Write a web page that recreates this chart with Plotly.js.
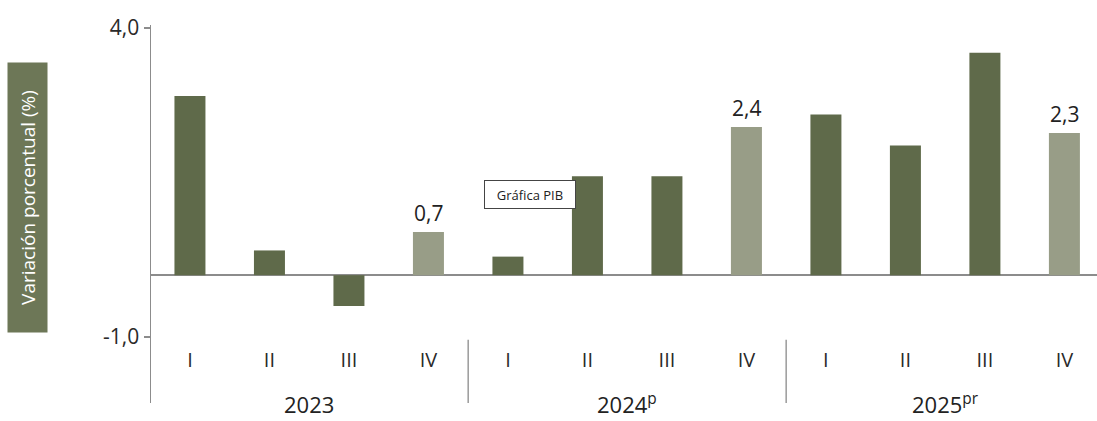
<!DOCTYPE html>
<html>
<head>
<meta charset="utf-8">
<script src="https://cdn.plot.ly/plotly-3.0.1.min.js"></script>
<style>
  html, body { margin: 0; padding: 0; background: #ffffff; }
  #chart { width: 1097px; height: 421px; }
</style>
</head>
<body>
<div id="chart"></div>
<script>
// ---- Data ----
const years = ["2023", "2024<sup>p</sup>", "2025<sup>pr</sup>"];
const quarters = ["I", "II", "III", "IV"];
const values = [2.9, 0.4, -0.5, 0.7, 0.3, 1.6, 1.6, 2.4, 2.6, 2.1, 3.6, 2.3];
const valueLabels = ["", "", "", "0,7", "", "", "", "2,4", "", "", "", "2,3"];
const yTickVals = [4, -1];
const yTickText = ["4,0", "-1,0"];
const yTitle = "Variación porcentual (%)";
const noteText = "Gráfica PIB";

// ---- Derived ----
const xs = values.map((v, i) => i);
const quarterTicks = values.map((v, i) => quarters[i % 4]);
const darkColor = "#5f6a4a";
const lightColor = "#989d87";
const barColors = values.map((v, i) => (i % 4 === 3 ? lightColor : darkColor));
const FONT = "Open Sans, DejaVu Sans, sans-serif";

const trace = {
  type: "bar",
  x: xs,
  y: values,
  width: 0.39,
  marker: { color: barColors, line: { width: 0 } },
  hoverinfo: "skip"
};

const annotations = [];
// value labels
values.forEach((v, i) => {
  if (valueLabels[i]) {
    annotations.push({
      x: i, y: v, xref: "x", yref: "y",
      text: valueLabels[i], showarrow: false,
      yanchor: "bottom", yshift: 3,
      font: { family: FONT, size: 21, color: "#222222" }
    });
  }
});
// year labels
years.forEach((yr, g) => {
  annotations.push({
    x: g * 4 + 1.5, y: -0.044, xref: "x", yref: "paper",
    text: yr, showarrow: false, yanchor: "bottom",
    borderpad: 0,
    font: { family: FONT, size: 22, color: "#222222" }
  });
});
// y title box
annotations.push({
  xref: "paper", yref: "paper",
  x: (27.5 - 151) / 946, y: (403 - 197.5) / 378,
  xanchor: "center", yanchor: "middle",
  text: yTitle, showarrow: false, textangle: -90,
  width: 267, height: 37, borderpad: 1,
  bgcolor: "#6d7757",
  font: { family: FONT, size: 19, color: "#ffffff" }
});
// note box
annotations.push({
  xref: "x", yref: "y", x: 4.28, y: 1.31,
  text: noteText, showarrow: false,
  width: 88, height: 25, borderpad: 1,
  bgcolor: "#ffffff", bordercolor: "#444444", borderwidth: 1,
  font: { family: FONT, size: 13, color: "#222222" }
});

const shapes = [3.5, 7.5].map(xv => ({
  type: "line", xref: "x", yref: "paper",
  x0: xv, x1: xv, y0: 0, y1: 0.167,
  line: { color: "#9a9a9a", width: 1.5 }
}));

const layout = {
  width: 1097, height: 421,
  margin: { l: 151, r: 0, t: 25, b: 18, pad: 0 },
  paper_bgcolor: "#ffffff", plot_bgcolor: "#ffffff",
  showlegend: false,
  bargap: 0.6,
  font: { family: FONT, color: "#333333" },
  xaxis: {
    range: [-0.49, 11.41],
    tickvals: xs, ticktext: quarterTicks,
    anchor: "free", position: 0.152,
    showline: false, showgrid: false, zeroline: false,
    ticks: "", tickfont: { family: FONT, size: 20, color: "#2a2a2a" },
    fixedrange: true
  },
  yaxis: {
    range: [-2.07, 4.05],
    tickvals: yTickVals, ticktext: yTickText,
    showline: true, linecolor: "#8c8c8c", linewidth: 1.5,
    ticks: "outside", ticklen: 6, tickcolor: "#8c8c8c", tickwidth: 1.5,
    tickfont: { family: FONT, size: 21, color: "#2a2a2a" },
    showgrid: false,
    zeroline: true, zerolinecolor: "#8c8c8c", zerolinewidth: 1.5,
    fixedrange: true
  },
  annotations: annotations,
  shapes: shapes
};

Plotly.newPlot("chart", [trace], layout, { displayModeBar: false, staticPlot: true });
</script>
</body>
</html>
